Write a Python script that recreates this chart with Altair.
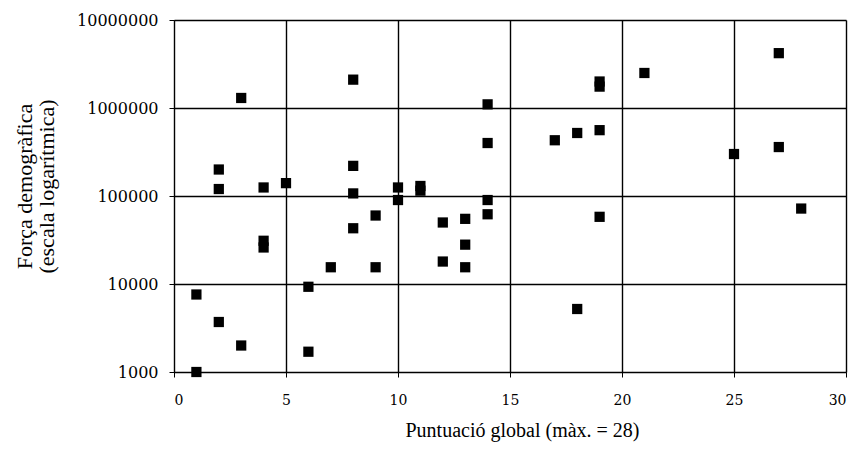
import altair as alt
import pandas as pd

# Data (x = global score, y = demographic strength)
score = [1, 1,
         2, 2, 2,
         3, 3,
         4, 4, 4,
         5,
         6, 6,
         7,
         8, 8, 8, 8,
         9, 9,
         10, 10,
         11, 11,
         12, 12,
         13, 13, 13,
         14, 14, 14, 14,
         17,
         18, 18,
         19, 19, 19, 19,
         21,
         25,
         27, 27,
         28]
force = [7600, 1000,
         3700, 200000, 120000,
         1300000, 2000,
         125000, 31000, 26000,
         140000,
         9300, 1700,
         15500,
         2100000, 220000, 107000, 43000,
         60000, 15500,
         125000, 90000,
         130000, 115000,
         50000, 18000,
         55000, 28000, 15500,
         1100000, 400000, 90000, 62000,
         430000,
         520000, 5200,
         2000000, 1750000, 560000, 58000,
         2500000,
         300000,
         4200000, 360000,
         72000]

x_ticks = [0, 5, 10, 15, 20, 25, 30]
y_ticks = [1000, 10000, 100000, 1000000, 10000000]

df = pd.DataFrame({"score": score, "force": force})

title_font = "Liberation Serif"
tick_font = "DejaVu Serif"

chart = alt.Chart(df).mark_point(
    shape="square", filled=True, color="black", size=105, opacity=1
).encode(
    x=alt.X(
        "score:Q",
        scale=alt.Scale(domain=[0, 30], nice=False, zero=False),
        axis=alt.Axis(
            values=x_ticks,
            title="Puntuació global (màx. = 28)",
            titleFont=title_font,
            titleFontSize=20,
            titleFontWeight="normal",
            titleColor="black",
            titleX=348,
            titleY=68,
            titleBaseline="bottom",
            labelFont=tick_font,
            labelFontSize=14,
            labelColor="black",
            labelPadding=16,
            tickSize=5,
            tickColor="black",
            domainColor="black",
            gridColor="black",
            gridWidth=1.4,
            gridOpacity=1,
        ),
    ),
    y=alt.Y(
        "force:Q",
        scale=alt.Scale(type="log", domain=[1000, 10000000], nice=False),
        axis=alt.Axis(
            values=y_ticks,
            format="d",
            title=["Força demogràfica", "(escala logarítmica)"],
            titleFont=title_font,
            titleFontSize=22,
            titleFontWeight="normal",
            titleColor="black",
            titleLineHeight=22,
            titleAngle=-90,
            titleAlign="center",
            titleBaseline="bottom",
            titleX=-138,
            titleY=166,
            labelFont=tick_font,
            labelFontSize=16,
            labelColor="black",
            labelPadding=11,
            tickSize=5,
            tickColor="black",
            domainColor="black",
            gridColor="black",
            gridWidth=1.4,
            gridOpacity=1,
        ),
    ),
).properties(
    width=672,
    height=352,
    autosize=alt.AutoSizeParams(type="none"),
    padding={"left": 166, "top": 12, "right": 5, "bottom": 76},
).configure_view(
    stroke="black", strokeWidth=1.5
).configure(background="white")

chart.save("out.html", embed_options={"renderer": "svg", "actions": False})
